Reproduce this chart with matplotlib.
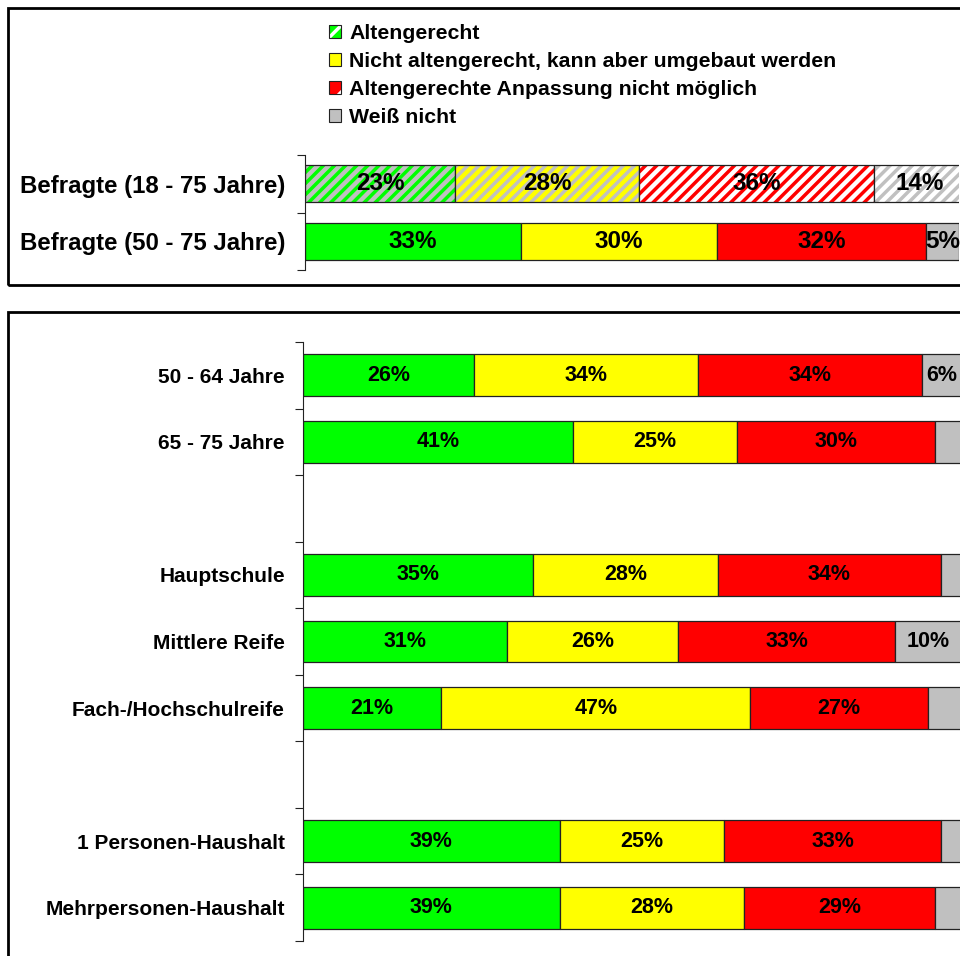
import matplotlib
matplotlib.use("Agg")
import matplotlib.pyplot as plt
from matplotlib.patches import Patch, Rectangle
from matplotlib.legend_handler import HandlerTuple

plt.rcParams['font.family'] = ['Liberation Sans', 'DejaVu Sans']
plt.rcParams['font.weight'] = 'bold'
plt.rcParams['hatch.linewidth'] = 2.5

# data
legend_labels = ["Altengerecht",
                 "Nicht altengerecht, kann aber umgebaut werden",
                 "Altengerechte Anpassung nicht möglich",
                 "Weiß nicht"]

top_cats = ["Befragte (18 - 75 Jahre)", "Befragte (50 - 75 Jahre)"]
top_green = [23, 33]
top_yellow = [28, 30]
top_red = [36, 32]
top_gray = [14, 5]

bottom_cats = ["50 - 64 Jahre", "65 - 75 Jahre", "Hauptschule", "Mittlere Reife",
               "Fach-/Hochschulreife", "1 Personen-Haushalt", "Mehrpersonen-Haushalt"]
bottom_green = [26, 41, 35, 31, 21, 39, 39]
bottom_yellow = [34, 25, 28, 26, 47, 25, 28]
bottom_red = [34, 30, 34, 33, 27, 33, 29]
bottom_gray = [6, 4, 3, 10, 5, 3, 4]

GREEN = "#00FF00"
YELLOW = "#FFFF00"
RED = "#FF0000"
GRAY = "#C0C0C0"
EDGE = "#222222"

fig = plt.figure(figsize=(9.6, 9.56), dpi=100)

# panel frames
fig.add_artist(Rectangle((8 / 960, 1 - 285 / 956), 1.0, 277 / 956, transform=fig.transFigure,
                         fill=False, lw=2, ec="black"))
fig.add_artist(Rectangle((8 / 960, -0.02), 1.0, 1 - 312 / 956 + 0.02, transform=fig.transFigure,
                         fill=False, lw=2, ec="black"))


def style_axis(ax, cats, rows, nslots, pad):
    ax.set_xlim(0, 100)
    ax.set_ylim(nslots - 0.5, -0.5)
    for s in ["top", "right", "bottom"]:
        ax.spines[s].set_visible(False)
    ax.spines["left"].set_color(EDGE)
    ax.set_xticks([])
    ax.set_yticks([i - 0.5 for i in range(nslots + 1)])
    ax.set_yticklabels([])
    ax.tick_params(axis="y", which="major", length=6, color=EDGE)
    ax.set_yticks(rows, minor=True)
    ax.set_yticklabels(cats, minor=True)
    ax.tick_params(axis="y", which="minor", length=0, pad=pad)
    ax.patch.set_alpha(0)


# ---- top panel
ax1 = fig.add_axes([305 / 960, 1 - 270 / 956, 654 / 960, 115 / 956])
rows1 = [0, 1]
style_axis(ax1, top_cats, rows1, 2, 14)
for t in ax1.get_yticklabels(minor=True):
    t.set_fontsize(17.3)

h1 = 0.65
series_top = [top_green, top_yellow, top_red, top_gray]
solid = [GREEN, YELLOW, RED, GRAY]
hatch_fc = [GRAY, YELLOW, "white", "white"]
hatch_ec = [GREEN, GRAY, RED, GRAY]
left = [0, 0]
for k, vals in enumerate(series_top):
    for r, v in zip(rows1, vals):
        if r == 0:
            ax1.barh(r, v, left=left[r], height=h1, color=hatch_fc[k], edgecolor=hatch_ec[k],
                     hatch="///", lw=0.5)
        else:
            ax1.barh(r, v, left=left[r], height=h1, color=solid[k], lw=0)
        ax1.barh(r, v, left=left[r], height=h1, fill=False, edgecolor=EDGE, lw=0.9)
        ax1.text(left[r] + v / 2, r, f"{v}%", ha="center", va="center", fontsize=17.5,
                 family=["Liberation Sans Narrow", "Liberation Sans"], fontweight="bold")
        left[r] += v

# ---- bottom panel
ax2 = fig.add_axes([303 / 960, 1 - 941 / 956, 658 / 960, 599 / 956])
rows2 = [0, 1, 3, 4, 5, 7, 8]
style_axis(ax2, bottom_cats, rows2, 9, 13)
for t in ax2.get_yticklabels(minor=True):
    t.set_fontsize(15)

h2 = 0.63
series_bottom = [bottom_green, bottom_yellow, bottom_red, bottom_gray]
left2 = [0] * len(rows2)
for k, vals in enumerate(series_bottom):
    ax2.barh(rows2, vals, left=left2, height=h2, color=solid[k], edgecolor=EDGE, lw=0.9)
    for i, (r, v) in enumerate(zip(rows2, vals)):
        if k < 3 or v >= 6:
            ax2.text(left2[i] + v / 2, r, f"{v}%", ha="center", va="center", fontsize=15.5)
        left2[i] += v

# legend
handles = [
    (Patch(facecolor=GREEN, edgecolor="white", hatch="/", lw=0), Patch(fill=False, ec=EDGE, lw=0.8)),
    Patch(facecolor=YELLOW, edgecolor=EDGE, lw=0.8),
    (Patch(facecolor=RED, edgecolor="white", hatch="/", lw=0), Patch(fill=False, ec=EDGE, lw=0.8)),
    Patch(facecolor=GRAY, edgecolor=EDGE, lw=0.8),
]
fig.legend(handles, legend_labels, loc="upper left", bbox_to_anchor=(329 / 960, 1 - 24 / 956),
           frameon=False, fontsize=15.3, borderpad=0, borderaxespad=0, labelspacing=0.43,
           handlelength=0.55, handleheight=0.55, handletextpad=0.4,
           handler_map={tuple: HandlerTuple(ndivide=1, pad=0)})

fig.savefig("out.png", dpi=100)
